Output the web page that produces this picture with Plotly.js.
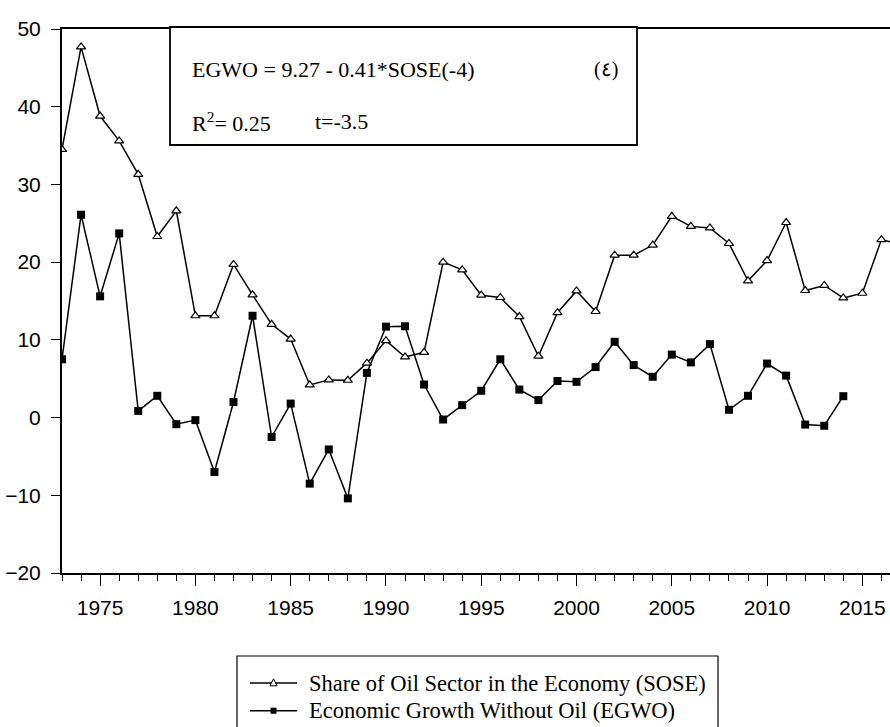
<!DOCTYPE html>
<html>
<head>
<meta charset="utf-8">
<script src="https://cdn.plot.ly/plotly-3.0.1.min.js"></script>
<style>
  html, body { margin: 0; padding: 0; background: #ffffff; overflow: hidden; }
  #chart { width: 890px; height: 727px; }
</style>
</head>
<body>
<div id="chart"></div>
<script>
// Years of observation
const years = [1973,1974,1975,1976,1977,1978,1979,1980,1981,1982,1983,1984,1985,1986,1987,1988,1989,1990,
  1991,1992,1993,1994,1995,1996,1997,1998,1999,2000,2001,2002,2003,2004,2005,2006,2007,2008,2009,2010,
  2011,2012,2013,2014,2015,2016,2017];

// Share of Oil Sector in the Economy (SOSE)
const sose = [34.5,47.7,38.8,35.6,31.3,23.3,26.6,13.1,13.1,19.7,15.8,12.0,10.1,4.2,4.85,4.8,7.0,9.9,
  7.8,8.4,20.0,19.0,15.75,15.45,13.0,7.9,13.5,16.3,13.65,20.9,20.9,22.2,25.9,24.6,24.4,22.4,17.6,20.2,
  25.1,16.35,17.0,15.4,16.0,22.9,22.3];

// Economic Growth Without Oil (EGWO), 1973-2014
const egwoYears = years.slice(0, 42);
const egwo = [7.5,26.1,15.6,23.7,0.86,2.8,-0.85,-0.33,-7.0,2.0,13.1,-2.5,1.8,-8.5,-4.1,-10.4,5.75,11.7,
  11.75,4.25,-0.25,1.6,3.45,7.5,3.6,2.25,4.7,4.6,6.5,9.75,6.75,5.25,8.1,7.1,9.45,1.0,2.8,6.95,
  5.4,-0.9,-1.05,2.75];

const seriesNames = ['Share of Oil Sector in the Economy (SOSE)', 'Economic Growth Without Oil (EGWO)'];
const yTicks = [-20,-10,0,10,20,30,40,50];
const eqText = 'EGWO = 9.27 - 0.41*SOSE(-4)';
const fitText = 'R<sup>2</sup>= 0.25';
const tText = 't=-3.5';
const eqNum = '(٤)';

const serif = '"Liberation Serif", "Times New Roman", serif';
const sans = '"Liberation Sans", Arial, sans-serif';

const traces = [
  {
    x: years, y: sose, name: seriesNames[0], type: 'scatter', mode: 'lines+markers',
    line: {color: '#000000', width: 1.5},
    marker: {symbol: 'triangle-up', size: 8, color: '#ffffff', line: {color: '#000000', width: 1.2}}
  },
  {
    x: egwoYears, y: egwo, name: seriesNames[1], type: 'scatter', mode: 'lines+markers',
    line: {color: '#000000', width: 1.5},
    marker: {symbol: 'square', size: 8, color: '#000000', line: {color: '#000000', width: 0}}
  }
];

// pixel -> paper helpers (plot area 62..890 x 29..573)
const L = 62, R = 890, T = 29, B = 573;
const px = v => (v - L) / (R - L);
const py = v => (B - v) / (B - T);

// Hand-drawn legend (box, key lines, key symbols)
const legRows = [683, 710.7];
const keyX0 = 250, keyX1 = 297, keyMid = (keyX0 + keyX1) / 2;
const triPath = (cx, cy, s) => {
  const x = px(cx), y = py(cy);
  const dx = s / 2 / (R - L), up = s * 0.6 / (B - T), dn = s * 0.4 / (B - T);
  return `M ${x - dx} ${y - dn} L ${x + dx} ${y - dn} L ${x} ${y + up} Z`;
};

const shapes = [
  {type: 'rect', xref: 'paper', yref: 'paper', x0: px(170), x1: px(637), y0: py(145), y1: py(27),
   line: {color: '#000000', width: 1.8}, fillcolor: '#ffffff', layer: 'above'},
  {type: 'rect', xref: 'paper', yref: 'paper', x0: px(237), x1: px(718), y0: py(745), y1: py(656),
   line: {color: '#000000', width: 1.2}, fillcolor: '#ffffff', layer: 'above'},
  {type: 'line', xref: 'paper', yref: 'paper', x0: px(keyX0), x1: px(keyX1), y0: py(legRows[0]), y1: py(legRows[0]),
   line: {color: '#000000', width: 1.5}, layer: 'above'},
  {type: 'line', xref: 'paper', yref: 'paper', x0: px(keyX0), x1: px(keyX1), y0: py(legRows[1]), y1: py(legRows[1]),
   line: {color: '#000000', width: 1.5}, layer: 'above'},
  {type: 'path', xref: 'paper', yref: 'paper', path: triPath(keyMid, legRows[0], 7),
   line: {color: '#000000', width: 1}, fillcolor: '#ffffff', layer: 'above'},
  {type: 'rect', xref: 'paper', yref: 'paper', x0: px(keyMid - 3), x1: px(keyMid + 3),
   y0: py(legRows[1] + 3), y1: py(legRows[1] - 3),
   line: {color: '#000000', width: 0}, fillcolor: '#000000', layer: 'above'}
];

const layout = {
  width: 890, height: 727,
  margin: {l: 62, r: 0, t: 29, b: 154},
  paper_bgcolor: '#ffffff', plot_bgcolor: '#ffffff',
  showlegend: false,
  xaxis: {
    range: [1973, 2016.45], tick0: 1975, dtick: 5, ticks: 'outside', ticklen: 11, tickwidth: 1,
    tickcolor: '#000000', showline: true, linecolor: '#000000', linewidth: 2, mirror: true,
    showgrid: false, zeroline: false, ticklabelstandoff: 4,
    tickfont: {family: sans, size: 21, color: '#000000'},
    minor: {dtick: 1, tick0: 1973, ticks: 'outside', ticklen: 6, tickwidth: 1, tickcolor: '#000000', showgrid: false}
  },
  yaxis: {
    range: [-20, 50], tickvals: yTicks, ticks: 'outside', ticklen: 9, tickwidth: 1,
    tickcolor: '#000000', showline: true, linecolor: '#000000', linewidth: 2,
    showgrid: false, zeroline: false, ticklabelstandoff: 6,
    tickfont: {family: sans, size: 21, color: '#000000'}
  },
  shapes: shapes,
  annotations: [
    {xref: 'paper', yref: 'paper', x: px(190), y: py(70), xanchor: 'left', yanchor: 'middle',
     text: eqText, showarrow: false, font: {family: serif, size: 22, color: '#000000'}},
    {xref: 'paper', yref: 'paper', x: px(606), y: py(70), xanchor: 'center', yanchor: 'middle',
     text: eqNum, showarrow: false, font: {family: serif, size: 20, color: '#000000'}},
    {xref: 'paper', yref: 'paper', x: px(190), y: py(122), xanchor: 'left', yanchor: 'middle',
     text: fitText, showarrow: false, font: {family: serif, size: 22, color: '#000000'}},
    {xref: 'paper', yref: 'paper', x: px(313), y: py(122), xanchor: 'left', yanchor: 'middle',
     text: tText, showarrow: false, font: {family: serif, size: 22, color: '#000000'}},
    {xref: 'paper', yref: 'paper', x: px(307), y: py(legRows[0]), xanchor: 'left', yanchor: 'middle',
     text: seriesNames[0], showarrow: false, font: {family: serif, size: 22.5, color: '#000000'}},
    {xref: 'paper', yref: 'paper', x: px(307), y: py(legRows[1]), xanchor: 'left', yanchor: 'middle',
     text: seriesNames[1], showarrow: false, font: {family: serif, size: 22.5, color: '#000000'}}
  ]
};

Plotly.newPlot('chart', traces, layout, {displayModeBar: false, staticPlot: true});
</script>
</body>
</html>
